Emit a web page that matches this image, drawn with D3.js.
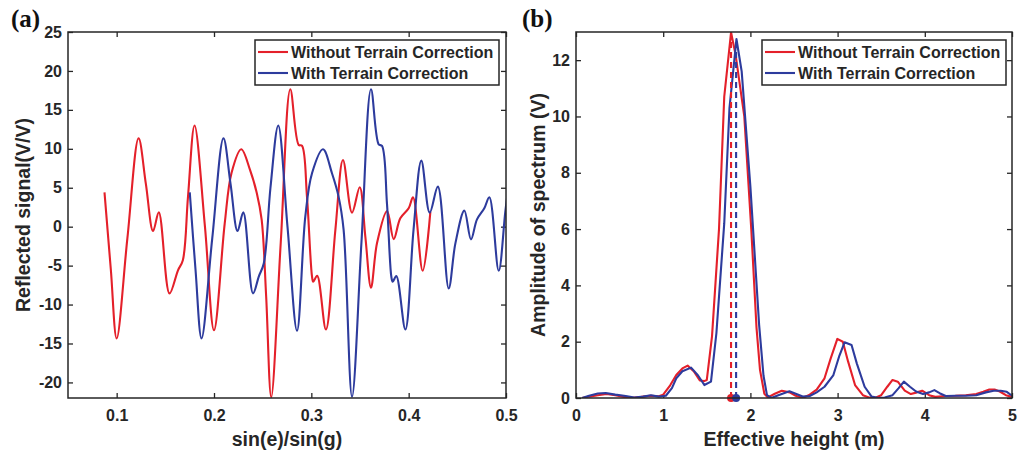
<!DOCTYPE html>
<html>
<head>
<meta charset="utf-8">
<script src="https://cdn.jsdelivr.net/npm/d3@7"></script>
<style>
  body { margin: 0; background: #fff; }
  svg { display: block; }
  text { font-family: "Liberation Sans", Arial, sans-serif; font-weight: bold; fill: #262626; }
</style>
</head>
<body>
<svg id="chart" width="1018" height="453"></svg>
<script>
// ---------- Data (a) ----------
const seriesNames = ["Without Terrain Correction", "With Terrain Correction"];
const leftXTicks = [0.1, 0.2, 0.3, 0.4, 0.5];
const leftYTicks = [-20, -15, -10, -5, 0, 5, 10, 15, 20, 25];
const rightXTicks = [0, 1, 2, 3, 4, 5];
const rightYTicks = [0, 2, 4, 6, 8, 10, 12];

const redX = [0.0875,0.094,0.1,0.111,0.1225,0.130,0.1374,0.1433,0.1543,0.163,0.168,0.1733,0.180,0.1907,0.200,0.211,0.218,0.228,0.237,0.244,0.249,0.2536,0.2588,0.2686,0.2784,0.287,0.2904,0.2955,0.3007,0.302,0.306,0.315,0.3247,0.3325,0.3418,0.3497,0.3555,0.3613,0.3675,0.3778,0.3846,0.3914,0.400,0.4045,0.4144,0.4223];
const redY = [4.4,-5.5,-14.35,-1.5,11.35,5.5,-0.56,1.84,-8.57,-5.6,-4.3,3.86,13.0,0,-13.3,0.4,6.9,9.94,7.3,4.3,0.86,-9,-21.9,-2,17.65,10.5,10.4,3.9,-6.4,-7.07,-6.3,-13.2,-0.4,8.57,1.8,5.06,-1.3,-7.84,-2.1,2.0,-1.6,1.07,2.36,3.77,-5.66,1.93];

const blueX = [0.1751,0.181,0.1872,0.1982,0.2097,0.217,0.2242,0.2301,0.2401,0.246,0.2512,0.258,0.266,0.2755,0.2853,0.2938,0.3007,0.312,0.3212,0.328,0.3332,0.3418,0.3515,0.3613,0.3692,0.3726,0.3777,0.3822,0.3836,0.3873,0.3966,0.405,0.413,0.4216,0.430,0.4411,0.448,0.4572,0.464,0.4702,0.4777,0.4829,0.4925,0.4993,0.503];
const blueY = [4.41,-5.5,-14.35,-1.5,11.35,5.5,-0.56,1.84,-8.57,-6.4,-4.7,5,13.0,0,-13.37,1.29,6.86,9.94,6.86,3.86,-0.43,-21.85,-2,17.65,10.58,10.37,3.0,-6.43,-7.07,-6.34,-13.2,-0.4,8.48,1.8,5.14,-7.93,-2.14,2.06,-1.63,0.94,2.36,3.77,-5.66,1.93,5.5];

// ---------- Data (b) ----------
const specRedH = [0.07,0.15,0.25,0.35,0.45,0.55,0.65,0.75,0.85,0.95,1.0,1.08,1.15,1.22,1.28,1.35,1.42,1.47,1.50,1.56,1.64,1.70,1.778,1.83,1.93,2.01,2.07,2.11,2.16,2.20,2.28,2.36,2.45,2.52,2.6,2.68,2.76,2.85,2.92,2.997,3.06,3.12,3.2,3.29,3.36,3.44,3.5,3.57,3.63,3.69,3.77,3.84,3.91,3.97,4.05,4.12,4.24,4.35,4.47,4.59,4.67,4.74,4.8,4.86,4.93,5.0];
const specRedA = [0,0.05,0.1,0.14,0.1,0.04,0.01,0.04,0.08,0.06,0.12,0.45,0.82,1.05,1.15,0.95,0.62,0.6,0.64,2.2,6.0,10.7,12.98,12.2,10,6,2.5,1.0,0.15,0.02,0.15,0.26,0.2,0.08,0.0,0.12,0.3,0.7,1.4,2.1,2.0,1.3,0.46,0.1,0.02,0.02,0.1,0.4,0.64,0.58,0.26,0.14,0.2,0.26,0.1,0.04,0.07,0.08,0.1,0.14,0.22,0.3,0.3,0.23,0.1,0.04];

const specBlueH = [0.07,0.15,0.25,0.34,0.45,0.57,0.67,0.77,0.86,0.95,1.03,1.1,1.15,1.22,1.32,1.40,1.472,1.548,1.61,1.70,1.76,1.84,1.90,2.00,2.10,2.15,2.19,2.24,2.32,2.447,2.52,2.6,2.68,2.76,2.85,2.95,3.02,3.08,3.16,3.22,3.31,3.39,3.47,3.54,3.63,3.70,3.76,3.83,3.9,3.98,4.05,4.11,4.17,4.24,4.35,4.47,4.59,4.7,4.79,4.87,4.94,5.0];
const specBlueA = [0,0.08,0.16,0.18,0.12,0.07,0.02,0.05,0.1,0.05,0.08,0.35,0.7,0.95,1.08,0.8,0.46,0.58,2.3,6.2,10.3,12.75,11.6,7.5,2.6,0.8,0.1,0.0,0.1,0.24,0.15,0.05,0.07,0.2,0.4,0.8,1.5,1.98,1.88,1.23,0.4,0.05,0.0,0.02,0.1,0.35,0.58,0.4,0.23,0.14,0.2,0.28,0.17,0.07,0.08,0.08,0.1,0.2,0.26,0.26,0.22,0.08];

const peakH = [1.778, 1.836];
const peakA = [12.98, 12.75];

const colors = ["#e4202a", "#2d3b9d"];
const axisColor = "#262626";

// ---------- Drawing ----------
const svg = d3.select("#chart");

function zip(xs, ys) { return xs.map((x, i) => [x, ys[i]]); }
const hyphen = f => v => f(v).replace("\u2212", "-");

function panel(cfg) {
  const x = d3.scaleLinear().domain(cfg.xDomain).range(cfg.xRange);
  const y = d3.scaleLinear().domain(cfg.yDomain).range(cfg.yRange);
  const [x0, x1] = cfg.xRange, [y1, y0] = cfg.yRange;
  const g = svg.append("g");

  const clipId = "clip" + cfg.id;
  svg.append("defs").append("clipPath").attr("id", clipId)
    .append("rect").attr("x", x0).attr("y", y0).attr("width", x1 - x0).attr("height", y1 - y0);

  const bottom = g.append("g").attr("transform", `translate(0,${y1})`)
    .call(d3.axisBottom(x).tickValues(cfg.xTicks).tickFormat(cfg.fmt).tickSizeInner(-5).tickSizeOuter(0).tickPadding(12));
  const left = g.append("g").attr("transform", `translate(${x0},0)`)
    .call(d3.axisLeft(y).tickValues(cfg.yTicks).tickFormat(hyphen(d3.format("d"))).tickSizeInner(-5).tickSizeOuter(0).tickPadding(6));
  const top = g.append("g").attr("transform", `translate(0,${y0})`)
    .call(d3.axisTop(x).tickValues(cfg.xTicks).tickFormat("").tickSizeInner(-5).tickSizeOuter(0));
  const right = g.append("g").attr("transform", `translate(${x1},0)`)
    .call(d3.axisRight(y).tickValues(cfg.yTicks).tickFormat("").tickSizeInner(-5).tickSizeOuter(0));
  [bottom, left, top, right].forEach(a => {
    a.select(".domain").remove();
    a.selectAll("line").attr("stroke", axisColor).attr("stroke-width", 1.3);
    a.selectAll("text").style("font-size", "16px").style("fill", axisColor)
      .style("font-family", '"Liberation Sans", Arial, sans-serif').style("font-weight", "bold");
  });

  const plot = g.append("g").attr("clip-path", `url(#${clipId})`);
  const line = d3.line().x(d => x(d[0])).y(d => y(d[1])).curve(cfg.curve);
  cfg.series.forEach((s, i) => {
    plot.append("path").datum(s).attr("d", line)
      .attr("fill", "none").attr("stroke", colors[i]).attr("stroke-width", 2.1)
      .attr("stroke-linejoin", "round");
  });
  if (cfg.after) cfg.after(g, plot, x, y);

  g.append("rect").attr("x", x0).attr("y", y0).attr("width", x1 - x0).attr("height", y1 - y0)
    .attr("fill", "none").attr("stroke", axisColor).attr("stroke-width", 1.5);

  g.append("text").attr("x", (x0 + x1) / 2).attr("y", 446).attr("text-anchor", "middle")
    .style("font-size", "19.5px").text(cfg.xLabel);
  g.append("text").attr("transform", `translate(${cfg.yLabelX},${(y0 + y1) / 2}) rotate(-90)`)
    .attr("text-anchor", "middle").style("font-size", "19.5px").text(cfg.yLabel);

  g.append("text").attr("x", cfg.letterX).attr("y", 27)
    .style("font-family", '"Liberation Serif", "Times New Roman", serif')
    .style("font-size", "25px").style("fill", "#111").text(cfg.letter);

  const lg = g.append("g");
  const lx = cfg.legend[0], ly = 40, lw = 244, lh = 45;
  lg.append("rect").attr("x", lx).attr("y", ly).attr("width", lw).attr("height", lh)
    .attr("fill", "#fff").attr("stroke", axisColor).attr("stroke-width", 1.5);
  seriesNames.forEach((n, i) => {
    const yy = ly + 12 + i * 21;
    lg.append("line").attr("x1", lx + 3).attr("x2", lx + 33).attr("y1", yy).attr("y2", yy)
      .attr("stroke", colors[i]).attr("stroke-width", 2.1);
    lg.append("text").attr("x", lx + 36).attr("y", yy + 6).style("font-size", "16px").text(n);
  });
}

panel({
  id: "a",
  xDomain: [0.05, 0.5], xRange: [68, 506],
  yDomain: [-22, 25], yRange: [398, 32],
  xTicks: leftXTicks, yTicks: leftYTicks,
  fmt: d3.format(".1f"),
  curve: d3.curveCatmullRom.alpha(0.5),
  series: [zip(redX, redY), zip(blueX, blueY)],
  xLabel: "sin(e)/sin(g)", yLabel: "Reflected signal(V/V)", yLabelX: 30,
  letter: "(a)", letterX: 11,
  legend: [255]
});

panel({
  id: "b",
  xDomain: [0, 5], xRange: [576, 1012],
  yDomain: [0, 13], yRange: [398, 32],
  xTicks: rightXTicks, yTicks: rightYTicks,
  fmt: d3.format("d"),
  curve: d3.curveLinear,
  series: [zip(specRedH, specRedA), zip(specBlueH, specBlueA)],
  xLabel: "Effective height (m)", yLabel: "Amplitude of spectrum (V)", yLabelX: 545,
  letter: "(b)", letterX: 522,
  legend: [762],
  after: (g, plot, x, y) => {
    peakH.forEach((h, i) => {
      g.append("line").attr("x1", x(h)).attr("x2", x(h)).attr("y1", y(0)).attr("y2", y(peakA[i]))
        .attr("stroke", colors[i]).attr("stroke-width", 2.1).attr("stroke-dasharray", "6,4");
    });
    peakH.forEach((h, i) => {
      g.append("circle").attr("cx", x(h)).attr("cy", y(0)).attr("r", 4).attr("fill", colors[i]);
    });
  }
});
</script>
</body>
</html>
